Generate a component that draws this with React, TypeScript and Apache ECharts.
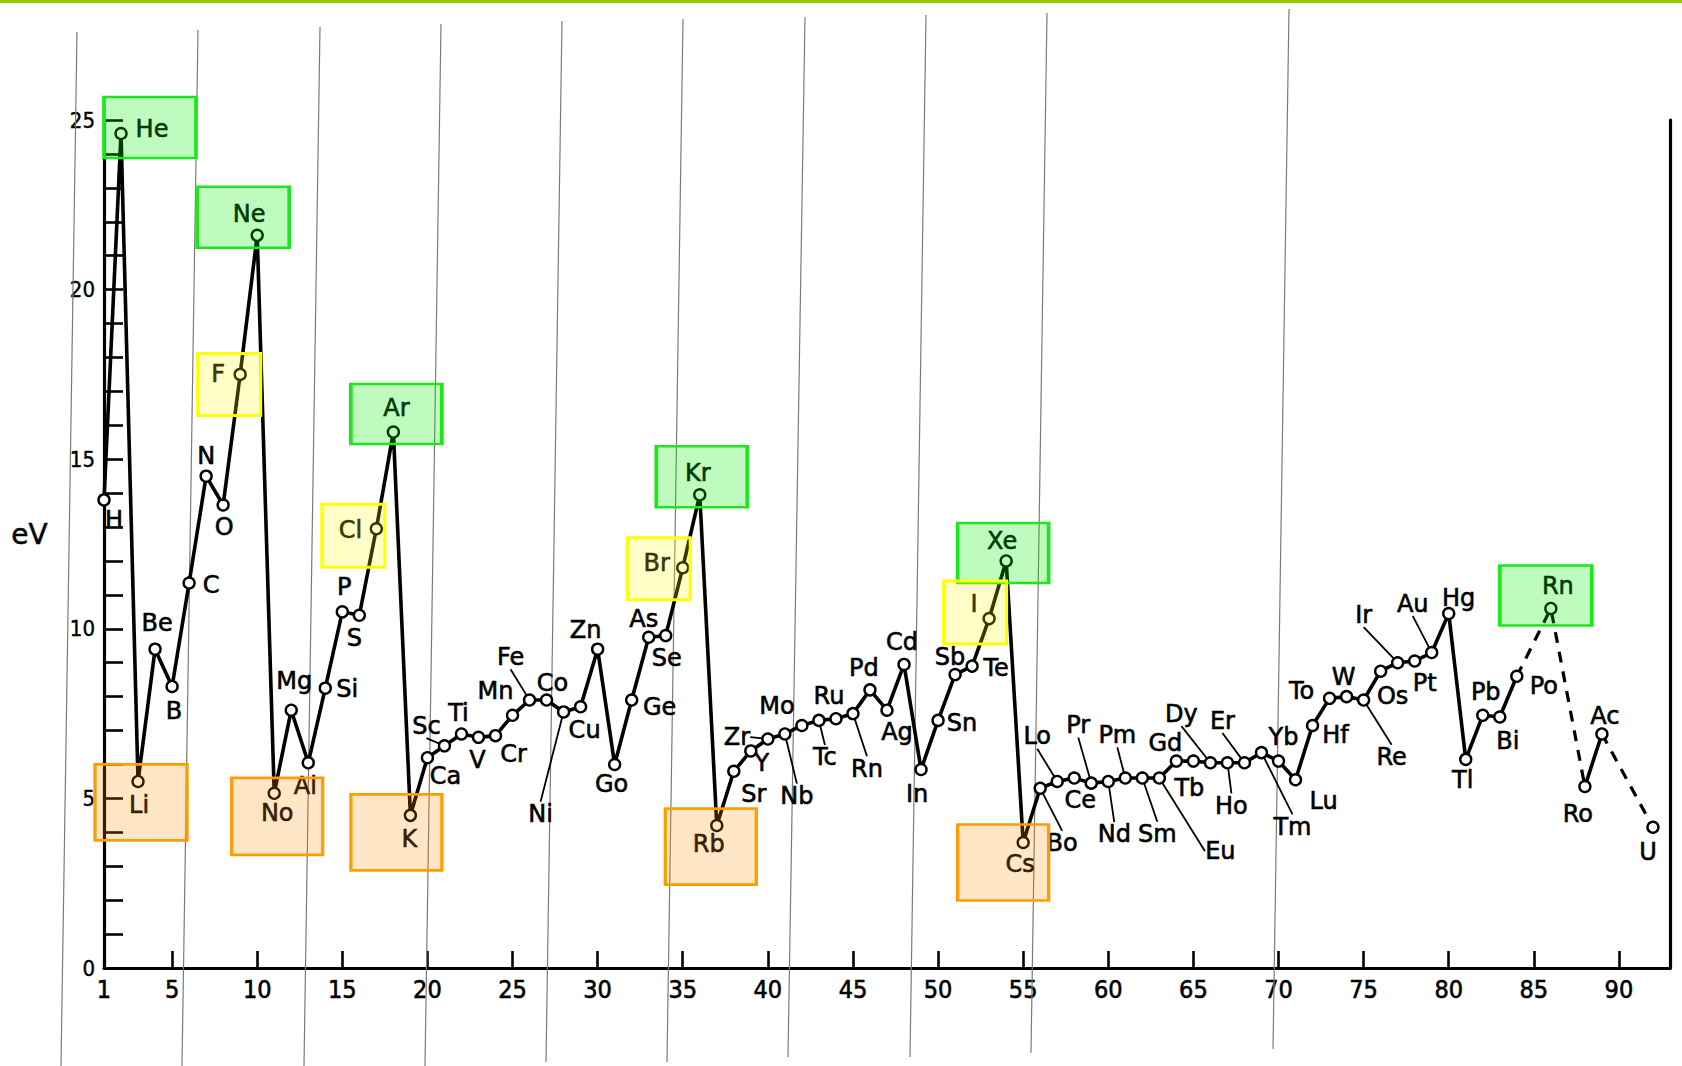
import React, { useEffect, useRef } from 'react';
import * as echarts from 'echarts';

// ---------------- data ----------------
const ATOMIC_NUMBERS = [
  1, 2, 3, 4, 5, 6, 7, 8, 9, 10, 11, 12, 13, 14, 15, 16, 17, 18, 19, 20,
  21, 22, 23, 24, 25, 26, 27, 28, 29, 30, 31, 32, 33, 34, 35, 36, 37, 38, 39, 40,
  41, 42, 43, 44, 45, 46, 47, 48, 49, 50, 51, 52, 53, 54, 55, 56, 57, 58, 59, 60,
  61, 62, 63, 64, 65, 66, 67, 68, 69, 70, 71, 72, 73, 74, 75, 76, 77, 78, 79, 80,
  81, 82, 83, 84, 86, 88, 89, 92,
];
const SYMBOLS = [
  'H', 'He', 'Li', 'Be', 'B', 'C', 'N', 'O', 'F', 'Ne', 'No', 'Mg', 'Al', 'Si', 'P', 'S', 'Cl', 'Ar', 'K', 'Ca',
  'Sc', 'Ti', 'V', 'Cr', 'Mn', 'Fe', 'Co', 'Ni', 'Cu', 'Zn', 'Go', 'Ge', 'As', 'Se', 'Br', 'Kr', 'Rb', 'Sr', 'Y', 'Zr',
  'Nb', 'Mo', 'Tc', 'Ru', 'Rn', 'Pd', 'Ag', 'Cd', 'In', 'Sn', 'Sb', 'Te', 'I', 'Xe', 'Cs', 'Bo', 'Lo', 'Ce', 'Pr', 'Nd',
  'Pm', 'Sm', 'Eu', 'Gd', 'Tb', 'Dy', 'Ho', 'Er', 'Tm', 'Yb', 'Lu', 'Hf', 'To', 'W', 'Re', 'Os', 'Ir', 'Pt', 'Au', 'Hg',
  'Tl', 'Pb', 'Bi', 'Po', 'Rn', 'Ro', 'Ac', 'U',
];
const ENERGIES_EV = [
  13.8, 24.6, 5.5, 9.4, 8.3, 11.35, 14.5, 13.65, 17.5, 21.6, 5.15, 7.6, 6.05, 8.25, 10.5, 10.4, 12.95, 15.8, 4.5, 6.2,
  6.55, 6.9, 6.8, 6.85, 7.45, 7.9, 7.9, 7.55, 7.7, 9.4, 6.0, 7.9, 9.75, 9.8, 11.8, 13.95, 4.2, 5.8, 6.4, 6.75,
  6.9, 7.15, 7.3, 7.35, 7.5, 8.2, 7.6, 8.95, 5.85, 7.3, 8.65, 8.9, 10.3, 12.0, 3.7, 5.3, 5.5, 5.6, 5.45, 5.5,
  5.6, 5.6, 5.6, 6.1, 6.1, 6.05, 6.05, 6.05, 6.35, 6.1, 5.55, 7.15, 7.95, 8.0, 7.9, 8.75, 9.0, 9.05, 9.3, 10.45,
  6.15, 7.45, 7.4, 8.6, 10.6, 5.35, 6.9, 4.15,
];
const X_TICKS = [5, 10, 15, 20, 25, 30, 35, 40, 45, 50, 55, 60, 65, 70, 75, 80, 85, 90];
const X_LABELS = [1, 5, 10, 15, 20, 25, 30, 35, 40, 45, 50, 55, 60, 65, 70, 75, 80, 85, 90];
const SOLID_RUNS = [[1, 84], [88, 89]];
const DASHED_RUNS = [[84, 88], [89, 92]];
const NOBLE_GASES = [2, 10, 18, 36, 54, 86];
const HALOGENS = [9, 17, 35, 53];
const ALKALI_METALS = [3, 11, 19, 37, 55];

// ---------------- layout (label placement, boxes) ----------------
const LABEL_OFFSETS: Record<number, [number, number]> = {
  1: [10, 20], 2: [31, -5], 3: [1, 24], 4: [2, -26], 5: [2, 25], 6: [22, 2], 7: [0, -20], 8: [1, 22],
  9: [-22, 0], 10: [-8, -21], 11: [3, 20], 12: [3, -29], 13: [-3, 23], 14: [22, 1], 15: [2, -25],
  16: [-5, 23], 17: [-26, 1], 18: [3, -24], 19: [-1, 24], 20: [18, 18], 21: [-18, -20], 22: [-3, -21],
  23: [-1, 23], 24: [18, 18], 25: [-17, -24], 26: [-19, -43], 27: [6, -17], 28: [-23, 102], 29: [4, 23],
  30: [-12, -19], 31: [-3, 20], 32: [28, 7], 33: [-5, -18], 34: [1, 22], 35: [-26, -5], 36: [-2, -22],
  37: [-8, 18], 38: [20, 23], 39: [11, 12], 40: [-31, -2], 41: [12, 62], 42: [-25, -19], 43: [6, 37],
  44: [-7, -23], 45: [14, 55], 46: [-6, -22], 47: [10, 22], 48: [-2, -22], 49: [-4, 24], 50: [24, 3],
  51: [-5, -18], 52: [24, 2], 53: [-15, -15], 54: [-4, -20], 55: [-3, 22], 56: [22, 55], 57: [-20, -45],
  58: [6, 22], 59: [-13, -58], 60: [6, 53], 61: [-8, -43], 62: [15, 56], 63: [61, 73], 64: [-11, -18],
  65: [-4, 27], 66: [-29, -49], 67: [4, 43], 68: [-22, -42], 69: [31, 74], 70: [5, -24], 71: [28, 21],
  72: [23, 10], 73: [-28, -7], 74: [-3, -20], 75: [28, 57], 76: [12, 25], 77: [-34, -48], 78: [10, 22],
  79: [-19, -49], 80: [10, -16], 81: [-3, 21], 82: [3, -23], 83: [8, 24], 84: [27, 10], 86: [7, -22],
  88: [-7, 27], 89: [3, -18], 92: [-5, 25],
};
const LEADER_LINES = [21, 26, 28, 40, 41, 43, 45, 56, 57, 59, 60, 61, 62, 63, 66, 67, 68, 69, 75, 77, 79];
const BOX_LAYOUT: Record<number, { offset: [number, number]; size: [number, number] }> = {
  2: { offset: [29, -6], size: [92, 61] },
  10: { offset: [-14, -18], size: [92, 61] },
  18: { offset: [3, -18], size: [91, 60] },
  36: { offset: [2, -18], size: [91, 61] },
  54: { offset: [-3, -8], size: [91, 60] },
  86: { offset: [-5, -13], size: [92, 60] },
  9: { offset: [-11, 10], size: [63, 62] },
  17: { offset: [-23, 7], size: [63, 63] },
  35: { offset: [-24, 1], size: [63, 62] },
  53: { offset: [-14, -6], size: [63, 63] },
  3: { offset: [3, 21], size: [92, 76] },
  11: { offset: [3, 23], size: [91, 77] },
  19: { offset: [-14, 17], size: [91, 76] },
  37: { offset: [-6, 21], size: [91, 76] },
  55: { offset: [-20, 20], size: [91, 76] },
};
// scan artefacts: faint slanted page lines
const PAGE_LINES = [
  [77, 32, 61, 1066], [198, 30, 182, 1066], [320, 27, 304, 1066], [441, 24, 425, 1066],
  [562, 21, 546, 1062], [683, 19, 667, 1062], [805, 17, 788, 1057], [926, 15, 910, 1057],
  [1047, 13, 1031, 1053], [1289, 9, 1273, 1049],
];

const FONT = "'DejaVu Sans', 'Liberation Sans', sans-serif";
const FONT_COND = "'DejaVu Sans Condensed', 'Liberation Sans Narrow', 'DejaVu Sans', sans-serif";

function pointsIn(lo: number, hi: number) {
  const out: [number, number][] = [];
  ATOMIC_NUMBERS.forEach((z, i) => {
    if (z >= lo && z <= hi) out.push([z, ENERGIES_EV[i]]);
  });
  return out;
}

function boxSeries(zs: number[], fill: string, border: string) {
  return {
    type: 'scatter',
    silent: true,
    z: 6,
    symbol: 'rect',
    data: zs.map((z) => {
      const i = ATOMIC_NUMBERS.indexOf(z);
      const b = BOX_LAYOUT[z];
      return {
        value: [z, ENERGIES_EV[i]],
        symbolSize: b.size,
        symbolOffset: b.offset,
      };
    }),
    itemStyle: { color: fill, borderColor: border, borderWidth: 3, opacity: 1 },
    label: { show: false },
  };
}

export default function App() {
  const ref = useRef<HTMLDivElement>(null);
  useEffect(() => {
    if (!ref.current) return;
    const chart = echarts.init(ref.current, undefined, { renderer: 'svg' });

    const lineSeries: any[] = [];
    SOLID_RUNS.forEach(([lo, hi]) => {
      lineSeries.push({
        type: 'line',
        data: pointsIn(lo, hi),
        showSymbol: false,
        silent: true,
        z: 2,
        lineStyle: { color: '#000', width: 3.6 },
      });
    });
    DASHED_RUNS.forEach(([lo, hi]) => {
      lineSeries.push({
        type: 'line',
        data: pointsIn(lo, hi),
        showSymbol: false,
        silent: true,
        z: 2,
        lineStyle: { color: '#000', width: 3.2, type: [11, 9] },
      });
    });

    const pointData = ATOMIC_NUMBERS.map((z, i) => ({
      value: [z, ENERGIES_EV[i]],
      name: SYMBOLS[i],
      labelLine: LEADER_LINES.includes(z)
        ? { show: true, lineStyle: { color: '#000', width: 1.8 } }
        : { show: false },
    }));

    chart.setOption({
      animation: false,
      backgroundColor: '#fff',
      grid: { left: 104, right: 12, top: 120, bottom: 98 },
      xAxis: {
        type: 'value',
        min: 1,
        max: 93,
        axisLine: { show: true, lineStyle: { color: '#000', width: 3.2 } },
        axisTick: {
          show: true,
          inside: true,
          length: 17,
          customValues: X_TICKS,
          lineStyle: { color: '#000', width: 2.6 },
        },
        axisLabel: {
          customValues: X_LABELS,
          color: '#000',
          fontSize: 25,
          fontFamily: FONT_COND,
          textBorderColor: '#000',
          textBorderWidth: 0.6,
          margin: 9,
        },
        splitLine: { show: false },
      },
      yAxis: [
        {
          type: 'value',
          min: 0,
          max: 25,
          interval: 5,
          axisLine: { show: true, lineStyle: { color: '#000', width: 3.2 } },
          axisTick: { show: true, inside: true, length: 19, lineStyle: { color: '#000', width: 2.6 } },
          minorTick: { show: true, splitNumber: 5, length: 19, lineStyle: { color: '#000', width: 2.6 } },
          axisLabel: {
            color: '#000',
            fontSize: 22,
            fontFamily: FONT_COND,
            textBorderColor: '#000',
            textBorderWidth: 0.4,
            margin: 9,
          },
          splitLine: { show: false },
        },
        {
          type: 'value',
          position: 'right',
          min: 0,
          max: 25,
          interval: 5,
          axisLine: { show: true, lineStyle: { color: '#000', width: 3.2 } },
          axisTick: { show: false },
          axisLabel: { show: false },
          splitLine: { show: false },
        },
      ],
      graphic: [
        {
          type: 'rect',
          shape: { x: 0, y: 0, width: 1682, height: 3 },
          style: { fill: '#99cc00' },
          z: 100,
        },
        ...PAGE_LINES.map(([x1, y1, x2, y2]) => ({
          type: 'line',
          shape: { x1, y1, x2, y2 },
          style: { stroke: '#7a7a7a', lineWidth: 1.2 },
          z: 1,
          silent: true,
        })),
        {
          type: 'text',
          left: 11,
          top: 520,
          style: { text: 'eV', fontSize: 28, fontFamily: FONT, fill: '#000', stroke: '#000', lineWidth: 0.5 },
        },
      ],
      series: [
        ...lineSeries,
        {
          type: 'scatter',
          z: 3,
          data: pointData,
          symbol: 'circle',
          symbolSize: 11,
          itemStyle: { color: '#fff', borderColor: '#000', borderWidth: 2.4, opacity: 1 },
          label: {
            show: true,
            position: 'top',
            formatter: (p: any) => p.name,
            color: '#000',
            fontSize: 24,
            fontFamily: FONT,
            textBorderColor: '#000',
            textBorderWidth: 0.6,
          },
          labelLayout: (p: any) => {
            const z = ATOMIC_NUMBERS[p.dataIndex];
            const off = LABEL_OFFSETS[z] || [0, -20];
            return {
              x: p.rect.x + p.rect.width / 2 + off[0],
              y: p.rect.y + p.rect.height / 2 + off[1],
              align: 'center',
              verticalAlign: 'middle',
            };
          },
        },
        boxSeries(NOBLE_GASES, 'rgba(0,235,0,0.25)', '#1ee61e'),
        boxSeries(HALOGENS, 'rgba(255,255,0,0.22)', '#ffff00'),
        boxSeries(ALKALI_METALS, 'rgba(255,140,0,0.22)', '#ff9d00'),
      ],
    });
    return () => chart.dispose();
  }, []);
  return (
    <div
      ref={ref}
      style={{ position: 'absolute', left: 0, top: 0, width: 1682, height: 1066, background: '#fff' }}
    />
  );
}
